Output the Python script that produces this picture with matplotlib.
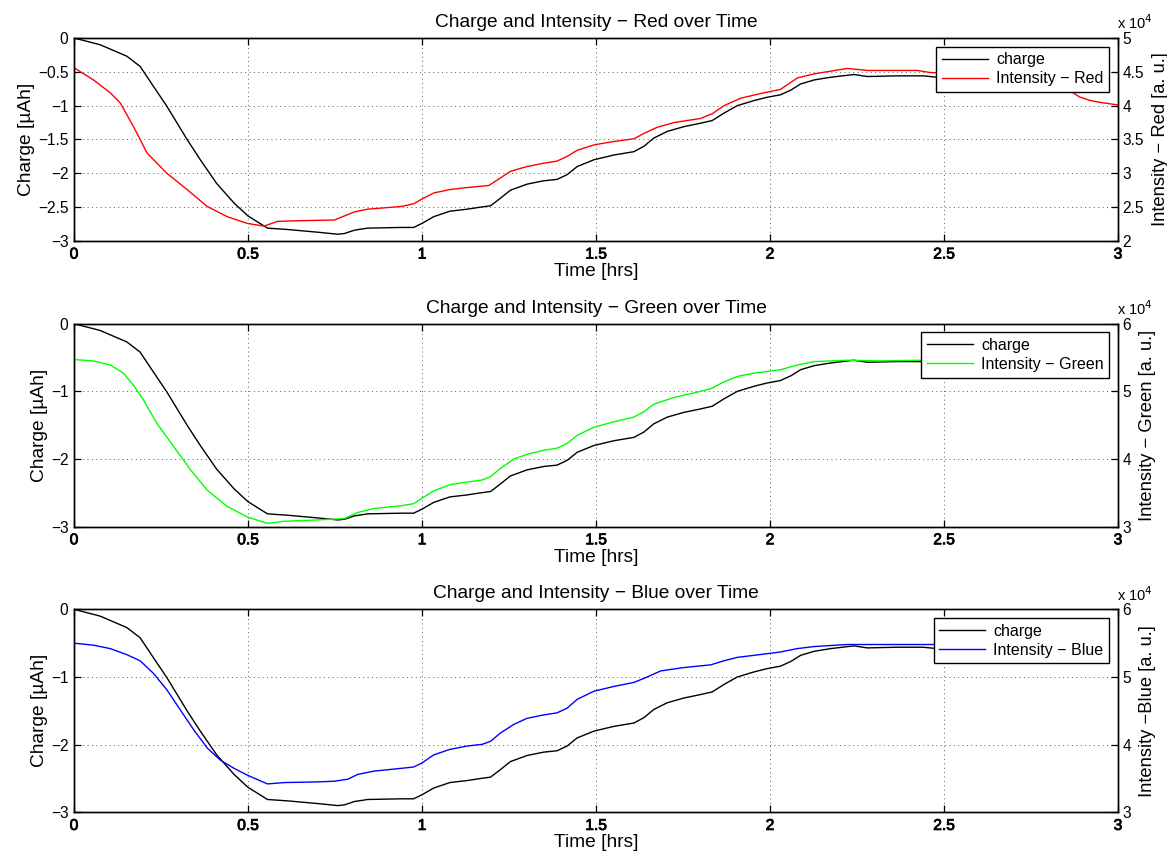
import matplotlib
matplotlib.use("Agg")
import matplotlib.pyplot as plt
import matplotlib.patheffects as pe
from matplotlib.lines import Line2D

plt.rcParams['font.family'] = ['Liberation Sans', 'DejaVu Sans']
plt.rcParams['axes.unicode_minus'] = True

# ---- data -----------------------------------------------------------------
t_charge = [0.0, 0.075, 0.152, 0.19, 0.229, 0.267, 0.325, 0.363, 0.41, 0.46,
            0.5, 0.556, 0.613, 0.70, 0.758, 0.777, 0.806, 0.844, 0.94, 0.976,
            1.0, 1.034, 1.08, 1.13, 1.168, 1.197, 1.225, 1.254, 1.302, 1.35,
            1.388, 1.417, 1.446, 1.494, 1.551, 1.609, 1.638, 1.666, 1.705, 1.753,
            1.80, 1.834, 1.868, 1.906, 1.954, 1.992, 2.03, 2.06, 2.088, 2.127,
            2.175, 2.241, 2.28, 2.365, 2.44, 2.48, 2.6, 2.75, 2.85]
charge = [0.0, -0.10, -0.27, -0.42, -0.72, -1.01, -1.50, -1.80, -2.15, -2.44,
          -2.63, -2.81, -2.83, -2.87, -2.90, -2.89, -2.84, -2.81, -2.80, -2.80,
          -2.74, -2.64, -2.56, -2.53, -2.50, -2.48, -2.37, -2.25, -2.16, -2.11,
          -2.09, -2.02, -1.90, -1.80, -1.73, -1.68, -1.60, -1.48, -1.38, -1.31,
          -1.26, -1.22, -1.11, -1.00, -0.925, -0.876, -0.84, -0.77, -0.68, -0.62,
          -0.58, -0.54, -0.57, -0.56, -0.56, -0.58, -0.58, -0.58, -0.58]

t_red = [0.0, 0.056, 0.104, 0.133, 0.171, 0.21, 0.267, 0.325, 0.383, 0.44,
         0.498, 0.546, 0.585, 0.652, 0.748, 0.806, 0.844, 0.94, 0.976, 1.0,
         1.034, 1.08, 1.13, 1.192, 1.225, 1.254, 1.302, 1.35, 1.388, 1.417,
         1.446, 1.494, 1.551, 1.609, 1.638, 1.676, 1.724, 1.80, 1.834, 1.868,
         1.916, 1.974, 2.03, 2.079, 2.127, 2.175, 2.222, 2.28, 2.365, 2.423,
         2.46, 2.6, 2.75, 2.862, 2.889, 2.917, 2.946, 3.0]
red = [45600, 43800, 41900, 40400, 36900, 33000, 30000, 27600, 25100, 23600,
       22600, 22200, 22900, 23000, 23100, 24300, 24700, 25100, 25500, 26200,
       27100, 27600, 27900, 28200, 29300, 30300, 31000, 31500, 31800, 32500,
       33400, 34200, 34700, 35100, 35900, 36800, 37500, 38100, 38800, 40000,
       41100, 41800, 42400, 44100, 44700, 45100, 45500, 45200, 45200, 45200,
       44900, 44600, 43800, 42200, 41300, 40800, 40500, 40100]

t_green = [0.0, 0.056, 0.104, 0.142, 0.171, 0.2, 0.238, 0.287, 0.335, 0.383,
           0.44, 0.5, 0.556, 0.604, 0.70, 0.777, 0.815, 0.863, 0.94, 0.976,
           1.0, 1.034, 1.08, 1.13, 1.173, 1.197, 1.225, 1.264, 1.302, 1.35,
           1.388, 1.417, 1.446, 1.494, 1.551, 1.609, 1.638, 1.666, 1.724, 1.80,
           1.83, 1.868, 1.906, 1.954, 2.03, 2.079, 2.127, 2.222, 2.318, 2.432,
           2.6, 2.85]
green = [54700, 54500, 53900, 52700, 50900, 48700, 45300, 41800, 38400, 35400,
         33000, 31400, 30500, 30800, 31000, 31200, 32100, 32700, 33100, 33400,
         34200, 35300, 36200, 36600, 36900, 37400, 38600, 40000, 40700, 41300,
         41600, 42300, 43500, 44700, 45500, 46200, 47000, 48100, 49100, 50000,
         50400, 51400, 52200, 52700, 53200, 53900, 54400, 54600, 54500, 54600,
         54500, 54500]

t_blue = [0.0, 0.056, 0.104, 0.152, 0.19, 0.229, 0.267, 0.306, 0.344, 0.383,
          0.421, 0.46, 0.498, 0.556, 0.604, 0.70, 0.748, 0.787, 0.815, 0.863,
          0.94, 0.976, 1.0, 1.034, 1.08, 1.13, 1.173, 1.197, 1.225, 1.264,
          1.302, 1.35, 1.388, 1.417, 1.446, 1.494, 1.551, 1.609, 1.638, 1.686,
          1.753, 1.83, 1.868, 1.906, 1.954, 2.03, 2.079, 2.127, 2.222, 2.318,
          2.47, 2.6, 2.85]
blue = [55000, 54700, 54200, 53300, 52400, 50500, 48100, 45100, 42200, 39500,
        37700, 36500, 35500, 34200, 34400, 34500, 34600, 34900, 35600, 36100,
        36500, 36700, 37300, 38500, 39300, 39800, 40050, 40500, 41700, 43000,
        43900, 44400, 44700, 45400, 46700, 47900, 48600, 49200, 49800, 50900,
        51400, 51800, 52400, 52900, 53200, 53700, 54200, 54500, 54800, 54800,
        54800, 54800, 54800]

time_ticks = [0, 0.5, 1, 1.5, 2, 2.5, 3]
time_labels = ['0', '0.5', '1', '1.5', '2', '2.5', '3']

panels = [
    dict(name='Red', t=t_red, v=red, color='#ff0000',
         left_ticks=[0, -0.5, -1, -1.5, -2, -2.5, -3],
         left_labels=['0', '\u22120.5', '\u22121', '\u22121.5', '\u22122', '\u22122.5', '\u22123'],
         right_lim=(20000, 50000),
         right_ticks=[20000, 25000, 30000, 35000, 40000, 45000, 50000],
         right_labels=['2', '2.5', '3', '3.5', '4', '4.5', '5'],
         right_title='Intensity \u2212 Red [a. u.]',
         legend='Intensity \u2212 Red',
         rect=[0.0634, 0.7188, 0.8946, 0.2369]),
    dict(name='Green', t=t_green, v=green, color='#00ff00',
         left_ticks=[0, -1, -2, -3],
         left_labels=['0', '\u22121', '\u22122', '\u22123'],
         right_lim=(30000, 60000),
         right_ticks=[30000, 40000, 50000, 60000],
         right_labels=['3', '4', '5', '6'],
         right_title='Intensity \u2212 Green [a. u.]',
         legend='Intensity \u2212 Green',
         rect=[0.0634, 0.3854, 0.8946, 0.2369]),
    dict(name='Blue', t=t_blue, v=blue, color='#0000ff',
         left_ticks=[0, -1, -2, -3],
         left_labels=['0', '\u22121', '\u22122', '\u22123'],
         right_lim=(30000, 60000),
         right_ticks=[30000, 40000, 50000, 60000],
         right_labels=['3', '4', '5', '6'],
         right_title='Intensity \u2212Blue [a. u.]',
         legend='Intensity \u2212 Blue',
         rect=[0.0634, 0.0521, 0.8946, 0.2369]),
]

# ---- figure ---------------------------------------------------------------
fig = plt.figure(figsize=(11.67, 8.57), dpi=100)
tick_fs = 11.2
label_fs = 13.8
right_label_fs = 13.2
legend_fs = 11.5
grid_kw = dict(color='0.35', linestyle=(0, (1, 3.5)), linewidth=0.7)

for p in panels:
    ax = fig.add_axes(p['rect'])
    ax2 = ax.twinx()

    ax.plot(t_charge, charge, color='black', lw=1.0)
    ax2.plot(p['t'], p['v'], color=p['color'], lw=1.0)

    ax.set_xlim(0, 3)
    ax.set_ylim(-3, 0)
    ax2.set_ylim(*p['right_lim'])

    ax.set_xticks(time_ticks)
    ax.set_xticklabels(time_labels)
    ax.set_yticks(p['left_ticks'])
    ax.set_yticklabels(p['left_labels'])
    ax2.set_yticks(p['right_ticks'])
    ax2.set_yticklabels(p['right_labels'])

    ax.tick_params(axis='both', direction='in', length=5, width=0.9,
                   labelsize=tick_fs, top=True, pad=4)
    ax.tick_params(axis='y', right=False)
    ax2.tick_params(axis='y', direction='in', length=5, width=0.9,
                    labelsize=tick_fs, pad=3)
    for lab in ax.get_xticklabels():
        lab.set_path_effects([pe.withStroke(linewidth=0.6, foreground='black')])

    ax.grid(True, **grid_kw)
    for s in list(ax.spines.values()) + list(ax2.spines.values()):
        s.set_linewidth(1.0)

    ax.set_title('Charge and Intensity \u2212 %s over Time' % p['name'],
                 fontsize=label_fs, pad=8)
    ax.set_xlabel('Time [hrs]', fontsize=label_fs, labelpad=1)
    ax.set_ylabel('Charge [\u00b5Ah]', fontsize=label_fs, labelpad=2)
    ax2.set_ylabel(p['right_title'], fontsize=right_label_fs, labelpad=6)

    ax2.annotate('x 10$^{4}$', xy=(1.0, 1.0), xycoords='axes fraction',
                 xytext=(-1, 4), textcoords='offset points',
                 ha='left', va='bottom', fontsize=10.5)

    handles = [Line2D([], [], color='black', lw=1.0),
               Line2D([], [], color=p['color'], lw=1.0)]
    leg = ax2.legend(handles, ['charge', p['legend']], loc='upper right',
                     fontsize=legend_fs, frameon=True, fancybox=False,
                     edgecolor='black', framealpha=1.0, handlelength=2.9,
                     labelspacing=0.25, borderpad=0.35, borderaxespad=0.55,
                     handletextpad=0.5)
    leg.get_frame().set_linewidth(1.0)

fig.savefig('out.png', dpi=100)
